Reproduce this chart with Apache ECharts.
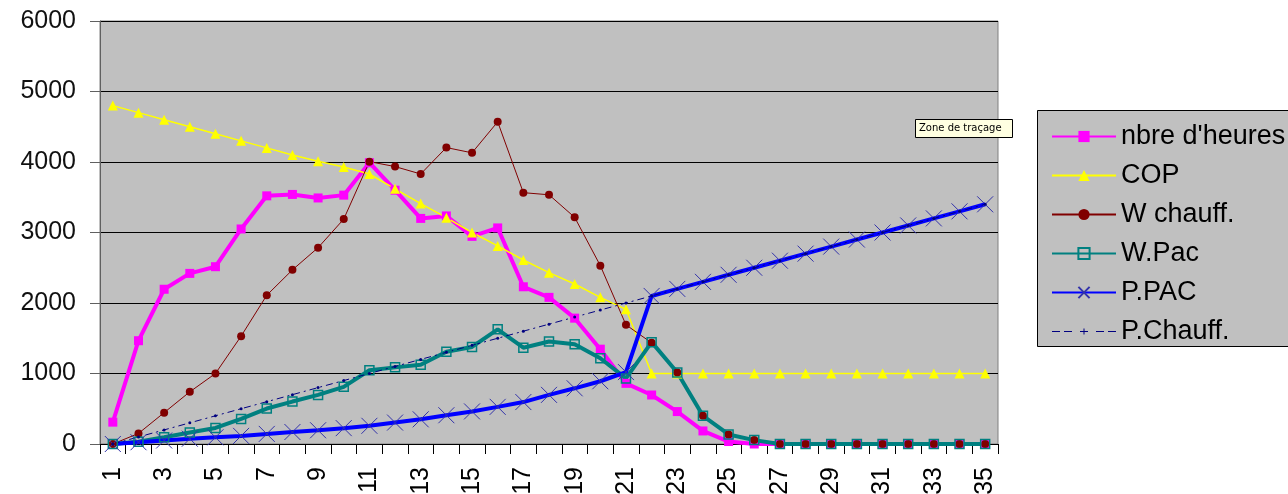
<!DOCTYPE html>
<html>
<head>
<meta charset="utf-8">
<title>Chauffage PAC</title>
<script src="https://cdn.jsdelivr.net/npm/echarts@6/dist/echarts.min.js"></script>
<style>
  html, body { margin: 0; padding: 0; background: #ffffff; }
  #chart { width: 1288px; height: 494px; }
</style>
</head>
<body>
<div id="chart"></div>
<script>
// Category labels (classes 1..35)
const categories = ['1','2','3','4','5','6','7','8','9','10','11','12','13','14','15','16','17','18','19','20',
  '21','22','23','24','25','26','27','28','29','30','31','32','33','34','35'];

// Series values
const nbreHeures = [310,1465,2195,2420,2515,3050,3520,3540,3490,3530,3990,3600,3200,3235,2945,3065,2230,2080,1785,1345,
  860,695,460,185,35,0,0,0,0,0,0,0,0,0,0];
const cop = [4800,4700,4600,4500,4400,4300,4200,4100,4010,3930,3830,3620,3410,3210,3000,2810,2610,2430,2270,2080,
  1910,1000,1000,1000,1000,1000,1000,1000,1000,1000,1000,1000,1000,1000,1000];
const wChauff = [0,150,445,740,1000,1530,2110,2470,2785,3190,4005,3935,3830,4205,4130,4570,3565,3535,3215,2530,
  1690,1435,1015,400,135,55,0,0,0,0,0,0,0,0,0];
const wPac = [0,32,97,164,228,356,503,602,696,811,1046,1087,1123,1309,1377,1627,1366,1453,1416,1216,
  930,1445,1015,400,135,55,0,0,0,0,0,0,0,0,0];
const pPac = [0,25,50,75,95,115,143,170,195,225,258,304,350,408,462,527,595,697,790,890,
  1020,2100,2200,2300,2400,2500,2600,2700,2800,2900,3000,3100,3200,3300,3400];
const pChauff = [0,100,200,300,400,500,600,700,800,900,1000,1100,1200,1300,1400,1500,1600,1700,1800,1900,
  2000,2100,2200,2300,2400,2500,2600,2700,2800,2900,3000,3100,3200,3300,3400];

// Y axis range
const yMin = 0, yMax = 6000, yStep = 1000;

const FONT = '"Liberation Sans", Arial, sans-serif';
const crossSymbol = 'path://M0,0L10,10M10,0L0,10';
// legend icon for the dash-dot series: dashes with a small plus in the middle
const dashDotIcon = 'path://M0,2.5h8v1h-8z M12,2.5h8v1h-8z M28,2.5h8v1h-8z M31.5,0h1v6h-1z M44,2.5h8v1h-8z M56,2.5h8v1h-8z';

const chart = echarts.init(document.getElementById('chart'), null, { renderer: 'canvas' });

chart.setOption({
  animation: false,
  backgroundColor: '#ffffff',
  textStyle: { fontFamily: FONT },
  grid: {
    left: 100, right: 290, top: 21, bottom: 50,
    outerBoundsMode: 'none',
    containLabel: false,
    show: true, backgroundColor: '#C0C0C0', borderColor: '#808080', borderWidth: 1
  },
  graphic: [
    // legend frame
    { type: 'rect', z: -1, shape: { x: 1037.5, y: 110.5, width: 260, height: 236 },
      style: { fill: '#C0C0C0', stroke: '#000000', lineWidth: 1 } },
    // hover note box
    { type: 'rect', shape: { x: 915.5, y: 119.5, width: 97, height: 18 },
      style: { fill: '#FFFFE1', stroke: '#000000', lineWidth: 1 } },
    { type: 'text', x: 919, y: 128.5,
      style: { text: 'Zone de traçage', fontSize: 10, fontFamily: 'Tahoma, "DejaVu Sans", sans-serif',
        fill: '#000000', verticalAlign: 'middle' } }
  ],
  legend: {
    orient: 'vertical',
    left: 1046, top: 118,
    itemWidth: 64, itemHeight: 14, itemGap: 12,
    textStyle: { fontSize: 27, color: '#000000', fontFamily: FONT },
    data: [
      "nbre d'heures", 'COP', 'W chauff.', 'W.Pac', 'P.PAC',
      { name: 'P.Chauff.', icon: dashDotIcon, itemStyle: { color: '#000080' } }
    ]
  },
  xAxis: {
    type: 'category',
    data: categories,
    boundaryGap: true,
    axisLine: { lineStyle: { color: '#000000', width: 1 } },
    axisTick: { show: true, interval: 0, length: 10, lineStyle: { color: '#000000' } },
    axisLabel: { interval: 1, rotate: 90, margin: 23, fontSize: 25, color: '#000000', fontFamily: FONT },
    splitLine: { show: false }
  },
  yAxis: {
    type: 'value',
    min: yMin, max: yMax, interval: yStep,
    axisLine: { show: true, lineStyle: { color: '#606060', width: 1 } },
    axisTick: { show: true, length: 10, lineStyle: { color: '#606060' } },
    axisLabel: { margin: 24, fontSize: 25, color: '#111111', fontFamily: FONT,
      formatter: function (v) { return String(v); } },
    splitLine: { show: true, lineStyle: { color: '#000000', width: 1 } }
  },
  series: [
    {
      name: "nbre d'heures", type: 'line', data: nbreHeures,
      symbol: 'rect', symbolSize: 9,
      lineStyle: { color: '#FF00FF', width: 4 },
      itemStyle: { color: '#FF00FF' }
    },
    {
      name: 'COP', type: 'line', data: cop,
      symbol: 'triangle', symbolSize: 10,
      lineStyle: { color: '#FFFF00', width: 1.5 },
      itemStyle: { color: '#FFFF00' }
    },
    {
      name: 'W chauff.', type: 'line', data: wChauff,
      symbol: 'circle', symbolSize: 8,
      lineStyle: { color: '#800000', width: 1 },
      itemStyle: { color: '#800000' }
    },
    {
      name: 'W.Pac', type: 'line', data: wPac,
      symbol: 'rect', symbolSize: 9,
      lineStyle: { color: '#008080', width: 4 },
      itemStyle: { color: 'rgba(0,0,0,0)', borderColor: '#008080', borderWidth: 1.5 }
    },
    {
      name: 'P.PAC', type: 'line', data: pPac,
      symbol: crossSymbol, symbolSize: 16,
      lineStyle: { color: '#0000FF', width: 4 },
      itemStyle: { color: 'rgba(0,0,0,0)', borderColor: '#3333AA', borderWidth: 1 }
    },
    {
      name: 'P.Chauff.', type: 'line', data: pChauff,
      symbol: 'circle', symbolSize: 3,
      lineStyle: { color: '#000080', width: 1, type: [7, 4, 2, 4] },
      itemStyle: { color: '#000080' }
    }
  ]
});
</script>
</body>
</html>
